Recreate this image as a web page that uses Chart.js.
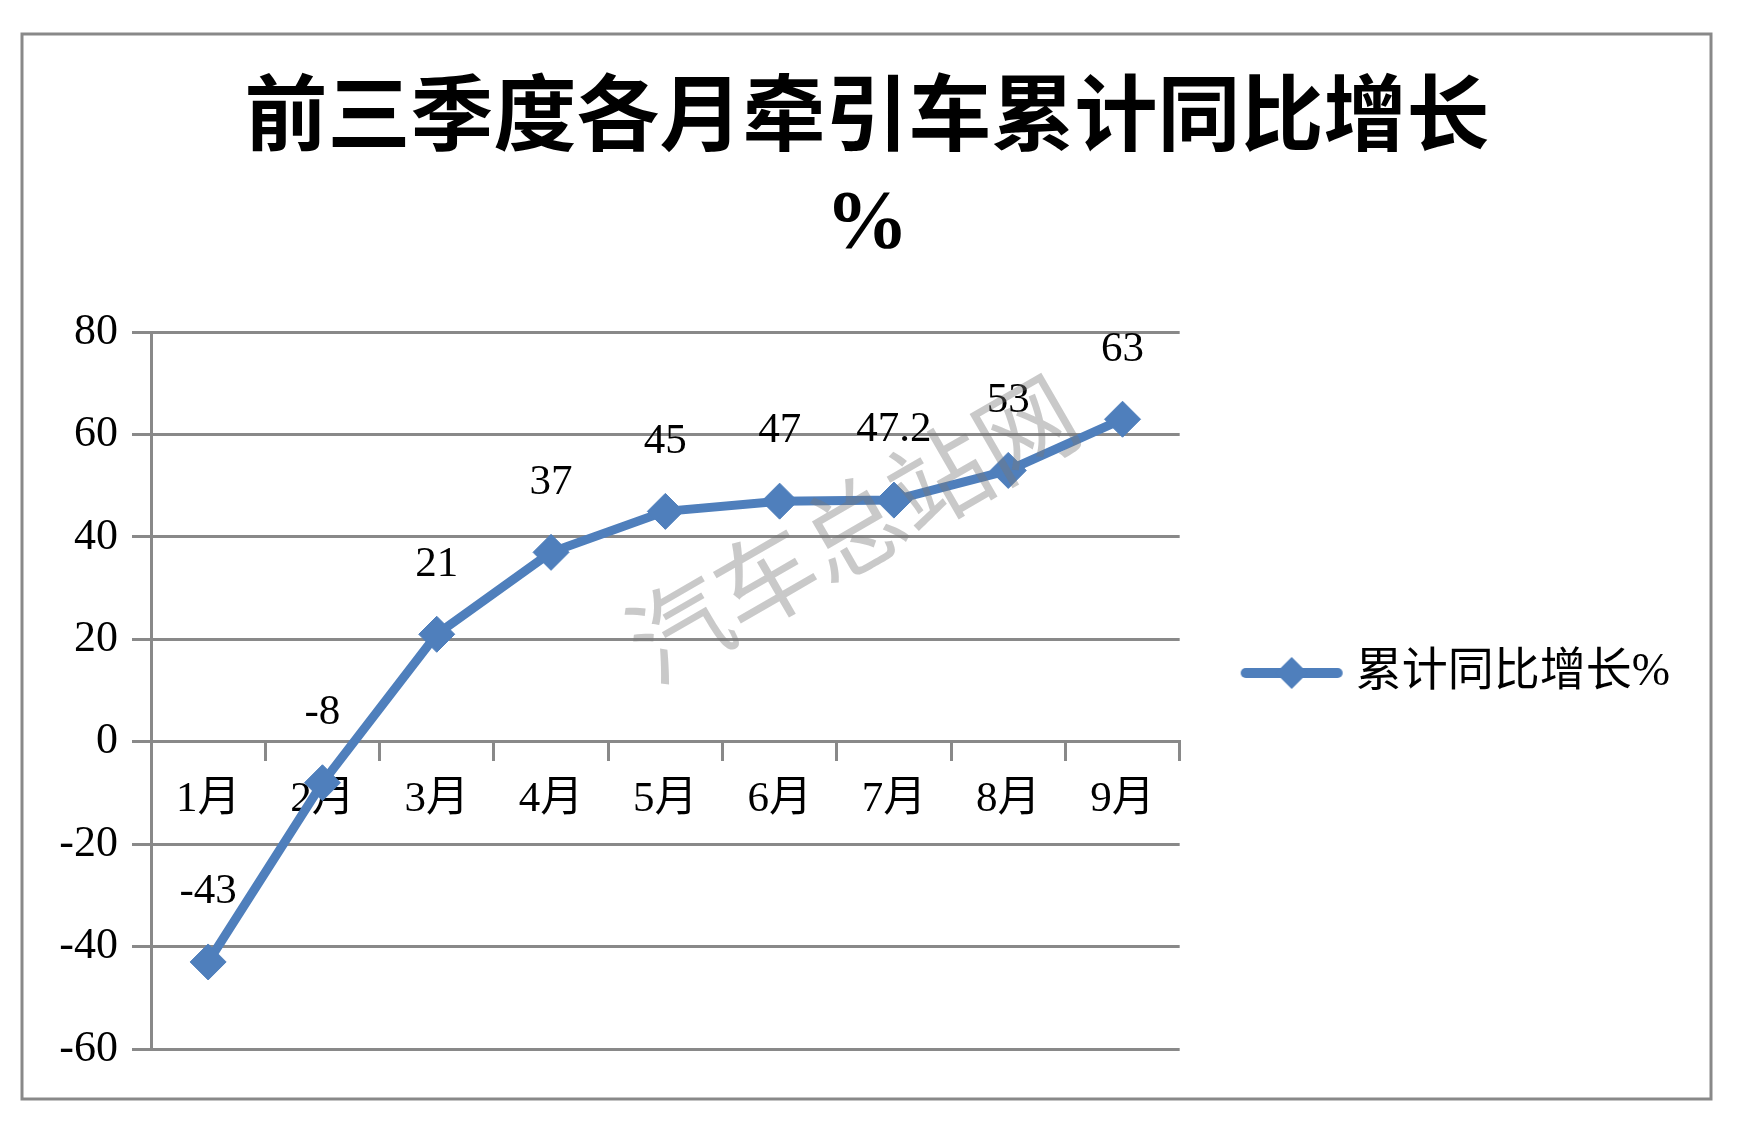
<!DOCTYPE html>
<html lang="zh">
<head>
<meta charset="utf-8">
<title>前三季度各月牵引车累计同比增长%</title>
<script src="https://cdn.jsdelivr.net/npm/chart.js@4.4.1/dist/chart.umd.min.js"></script>
<style>
  html, body { margin: 0; padding: 0; background: #fff; }
  canvas { display: block; }
</style>
</head>
<body>
<canvas id="chart" width="1753" height="1124"></canvas>
<script>
// 数据：各月累计同比增长（%）
const MONTHS = ["1月", "2月", "3月", "4月", "5月", "6月", "7月", "8月", "9月"];
const GROWTH = [-43, -8, 21, 37, 45, 47, 47.2, 53, 63];
const Y_TICKS = [-60, -40, -20, 0, 20, 40, 60, 80];

const SERIES_NAME = "累计同比增长%";
const TITLE_LINES = ["前三季度各月牵引车累计同比增长", "%"];

const BLUE = "#4f7fbc";
const GRAY = "#898989";
const SERIF = '"Liberation Serif", "Noto Sans CJK SC", serif';

/* 图例标记：线段 + 菱形，和 Excel 的折线图例一样 */
function legendMarker() {
  const c = document.createElement("canvas");
  c.width = 104;
  c.height = 36;
  const g = c.getContext("2d");
  g.strokeStyle = BLUE;
  g.lineWidth = 10;
  g.lineCap = "round";
  g.beginPath();
  g.moveTo(6, 18);
  g.lineTo(98, 18);
  g.stroke();
  g.fillStyle = BLUE;
  g.beginPath();
  g.moveTo(52, 2);
  g.lineTo(68, 18);
  g.lineTo(52, 34);
  g.lineTo(36, 18);
  g.closePath();
  g.fill();
  return c;
}

/* 白底 + 外框 */
const frame = {
  id: "frame",
  beforeDraw(chart) {
    const { ctx, width, height } = chart;
    ctx.save();
    ctx.fillStyle = "#fff";
    ctx.fillRect(0, 0, width, height);
    ctx.strokeStyle = GRAY;
    ctx.lineWidth = 3;
    ctx.strokeRect(22, 34, 1689, 1065);
    ctx.restore();
  },
};

/* 数据标签：点的正上方 */
const valueLabels = {
  id: "valueLabels",
  afterDatasetsDraw(chart) {
    const { ctx } = chart;
    const meta = chart.getDatasetMeta(0);
    ctx.save();
    ctx.font = `43px ${SERIF}`;
    ctx.fillStyle = "#000";
    ctx.textAlign = "center";
    ctx.textBaseline = "middle";
    meta.data.forEach((pt, i) => ctx.fillText(String(GROWTH[i]), pt.x, pt.y - 70));
    ctx.restore();
  },
};

/* 水印 */
const watermark = {
  id: "watermark",
  afterDraw(chart) {
    const { ctx } = chart;
    ctx.save();
    ctx.translate(852, 528);
    ctx.rotate(-30 * Math.PI / 180);
    ctx.font = '100px "Noto Sans CJK SC", sans-serif';
    ctx.fillStyle = "rgba(120, 120, 120, 0.4)";
    ctx.textAlign = "center";
    ctx.textBaseline = "middle";
    ctx.fillText("汽车总站网", 0, 0);
    ctx.restore();
  },
};

new Chart(document.getElementById("chart"), {
  type: "line",
  data: {
    labels: MONTHS,
    datasets: [
      {
        label: SERIES_NAME,
        data: GROWTH,
        borderColor: BLUE,
        backgroundColor: BLUE,
        borderWidth: 9,
        tension: 0,
        pointStyle: "rectRot",
        pointRadius: 18,
        pointBorderWidth: 1,
        pointBackgroundColor: BLUE,
        pointBorderColor: BLUE,
      },
    ],
  },
  options: {
    responsive: false,
    animation: false,
    layout: { padding: { top: 40, left: 54, right: 73, bottom: 75 } },
    plugins: {
      title: {
        display: true,
        text: TITLE_LINES,
        color: "#000",
        font: { family: SERIF, size: 83, weight: "bold", lineHeight: 1.23 },
        padding: { top: 32, bottom: 56 },
      },
      legend: {
        position: "right",
        maxWidth: 700,
        // 空标题只用来把图例条目压到和原图一样的高度
        title: { display: true, text: "", font: { size: 10, lineHeight: 1.2 }, padding: { top: 0, bottom: 245 } },
        labels: {
          usePointStyle: true,
          pointStyle: legendMarker(),
          pointStyleWidth: 82,
          padding: 71,
          color: "#000",
          font: { family: SERIF, size: 46 },
        },
      },
      tooltip: { enabled: false },
    },
    scales: {
      x: {
        type: "category",
        position: { y: 0 },
        offset: true,
        grid: {
          offset: true,
          drawOnChartArea: false,
          drawTicks: true,
          tickLength: 18,
          color: GRAY,
          lineWidth: 3,
        },
        border: { display: true, color: GRAY, width: 3 },
        ticks: { color: "#000", font: { family: SERIF, size: 43 }, padding: 14, maxRotation: 0 },
      },
      y: {
        min: Y_TICKS[0],
        max: Y_TICKS[Y_TICKS.length - 1],
        afterBuildTicks: (scale) => {
          scale.ticks = Y_TICKS.map((v) => ({ value: v }));
        },
        afterFit: (scale) => {
          scale.width = 97;
        },
        grid: { color: GRAY, lineWidth: 3, tickLength: 19 },
        border: { display: true, color: GRAY, width: 3 },
        ticks: { color: "#000", font: { family: SERIF, size: 44 }, padding: 14 },
      },
    },
  },
  plugins: [frame, valueLabels, watermark],
});
</script>
</body>
</html>
